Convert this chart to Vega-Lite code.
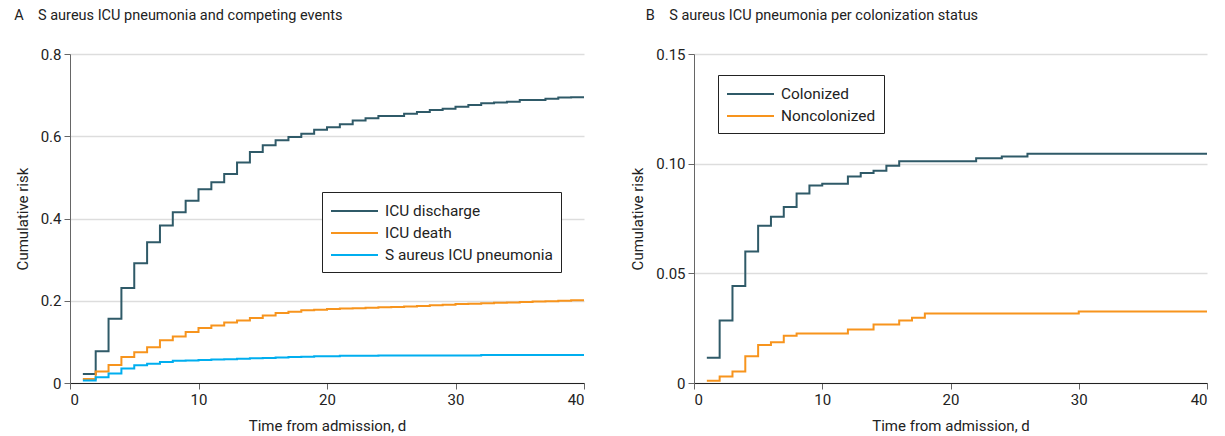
{
  "$schema": "https://vega.github.io/schema/vega-lite/v6.json",
  "background": "white",
  "padding": {"left": 14, "top": 7, "right": 2, "bottom": 3},
  "spacing": 42,
  "config": {
    "font": "Roboto",
    "view": {"stroke": null},
    "axis": {
      "labelFontSize": 15,
      "titleFontSize": 15,
      "titleFontWeight": "normal",
      "labelColor": "#222222",
      "titleColor": "#222222",
      "tickColor": "#666666",
      "domainColor": "#666666",
      "gridColor": "#dddddd",
      "gridWidth": 1.5
    },
    "axisX": {"grid": false, "domainColor": "#222222", "tickColor": "#666666", "tickSize": 6, "labelPadding": 3, "titlePadding": 11},
    "axisY": {"tickSize": 6, "labelPadding": 3, "titlePadding": 10},
    "title": {"fontSize": 14.5, "fontWeight": "normal", "anchor": "start", "color": "#222222"},
    "legend": {"labelFontSize": 15.4, "labelLimit": 400, "labelColor": "#222222", "symbolType": "M-1,0H3.7", "symbolSize": 400, "symbolStrokeWidth": 2, "strokeColor": "#222222", "fillColor": "white", "padding": 8, "rowPadding": 2, "labelOffset": 33}
  },
  "datasets": {
    "a": [
      {"series": "ICU discharge", "day": 1, "risk": 0.022}, {"series": "ICU discharge", "day": 2, "risk": 0.077}, {"series": "ICU discharge", "day": 3, "risk": 0.156}, {"series": "ICU discharge", "day": 4, "risk": 0.231}, {"series": "ICU discharge", "day": 5, "risk": 0.291}, {"series": "ICU discharge", "day": 6, "risk": 0.342}, {"series": "ICU discharge", "day": 7, "risk": 0.383}, {"series": "ICU discharge", "day": 8, "risk": 0.415}, {"series": "ICU discharge", "day": 9, "risk": 0.443}, {"series": "ICU discharge", "day": 10, "risk": 0.471}, {"series": "ICU discharge", "day": 11, "risk": 0.488}, {"series": "ICU discharge", "day": 12, "risk": 0.508}, {"series": "ICU discharge", "day": 13, "risk": 0.536}, {"series": "ICU discharge", "day": 14, "risk": 0.562}, {"series": "ICU discharge", "day": 15, "risk": 0.578}, {"series": "ICU discharge", "day": 16, "risk": 0.59}, {"series": "ICU discharge", "day": 17, "risk": 0.598}, {"series": "ICU discharge", "day": 18, "risk": 0.606}, {"series": "ICU discharge", "day": 19, "risk": 0.616}, {"series": "ICU discharge", "day": 20, "risk": 0.622}, {"series": "ICU discharge", "day": 21, "risk": 0.629}, {"series": "ICU discharge", "day": 22, "risk": 0.638}, {"series": "ICU discharge", "day": 23, "risk": 0.644}, {"series": "ICU discharge", "day": 24, "risk": 0.649}, {"series": "ICU discharge", "day": 26, "risk": 0.655}, {"series": "ICU discharge", "day": 27, "risk": 0.659}, {"series": "ICU discharge", "day": 28, "risk": 0.664}, {"series": "ICU discharge", "day": 29, "risk": 0.667}, {"series": "ICU discharge", "day": 30, "risk": 0.672}, {"series": "ICU discharge", "day": 31, "risk": 0.676}, {"series": "ICU discharge", "day": 32, "risk": 0.68}, {"series": "ICU discharge", "day": 33, "risk": 0.682}, {"series": "ICU discharge", "day": 34, "risk": 0.684}, {"series": "ICU discharge", "day": 35, "risk": 0.688}, {"series": "ICU discharge", "day": 37, "risk": 0.691}, {"series": "ICU discharge", "day": 38, "risk": 0.694}, {"series": "ICU discharge", "day": 39, "risk": 0.695}, {"series": "ICU discharge", "day": 40, "risk": 0.695},
      {"series": "ICU death", "day": 1, "risk": 0.01}, {"series": "ICU death", "day": 2, "risk": 0.028}, {"series": "ICU death", "day": 3, "risk": 0.044}, {"series": "ICU death", "day": 4, "risk": 0.063}, {"series": "ICU death", "day": 5, "risk": 0.075}, {"series": "ICU death", "day": 6, "risk": 0.087}, {"series": "ICU death", "day": 7, "risk": 0.104}, {"series": "ICU death", "day": 8, "risk": 0.113}, {"series": "ICU death", "day": 9, "risk": 0.124}, {"series": "ICU death", "day": 10, "risk": 0.134}, {"series": "ICU death", "day": 11, "risk": 0.14}, {"series": "ICU death", "day": 12, "risk": 0.147}, {"series": "ICU death", "day": 13, "risk": 0.152}, {"series": "ICU death", "day": 14, "risk": 0.158}, {"series": "ICU death", "day": 15, "risk": 0.164}, {"series": "ICU death", "day": 16, "risk": 0.17}, {"series": "ICU death", "day": 17, "risk": 0.173}, {"series": "ICU death", "day": 18, "risk": 0.177}, {"series": "ICU death", "day": 19, "risk": 0.178}, {"series": "ICU death", "day": 20, "risk": 0.18}, {"series": "ICU death", "day": 21, "risk": 0.181}, {"series": "ICU death", "day": 22, "risk": 0.182}, {"series": "ICU death", "day": 23, "risk": 0.183}, {"series": "ICU death", "day": 24, "risk": 0.184}, {"series": "ICU death", "day": 25, "risk": 0.185}, {"series": "ICU death", "day": 26, "risk": 0.186}, {"series": "ICU death", "day": 27, "risk": 0.187}, {"series": "ICU death", "day": 28, "risk": 0.189}, {"series": "ICU death", "day": 29, "risk": 0.19}, {"series": "ICU death", "day": 30, "risk": 0.192}, {"series": "ICU death", "day": 31, "risk": 0.193}, {"series": "ICU death", "day": 32, "risk": 0.194}, {"series": "ICU death", "day": 33, "risk": 0.195}, {"series": "ICU death", "day": 34, "risk": 0.196}, {"series": "ICU death", "day": 35, "risk": 0.197}, {"series": "ICU death", "day": 36, "risk": 0.198}, {"series": "ICU death", "day": 37, "risk": 0.199}, {"series": "ICU death", "day": 38, "risk": 0.2}, {"series": "ICU death", "day": 39, "risk": 0.201}, {"series": "ICU death", "day": 40, "risk": 0.201},
      {"series": "S aureus ICU pneumonia", "day": 1, "risk": 0.006}, {"series": "S aureus ICU pneumonia", "day": 2, "risk": 0.014}, {"series": "S aureus ICU pneumonia", "day": 3, "risk": 0.023}, {"series": "S aureus ICU pneumonia", "day": 4, "risk": 0.035}, {"series": "S aureus ICU pneumonia", "day": 5, "risk": 0.043}, {"series": "S aureus ICU pneumonia", "day": 6, "risk": 0.047}, {"series": "S aureus ICU pneumonia", "day": 7, "risk": 0.051}, {"series": "S aureus ICU pneumonia", "day": 8, "risk": 0.054}, {"series": "S aureus ICU pneumonia", "day": 9, "risk": 0.055}, {"series": "S aureus ICU pneumonia", "day": 10, "risk": 0.056}, {"series": "S aureus ICU pneumonia", "day": 11, "risk": 0.057}, {"series": "S aureus ICU pneumonia", "day": 12, "risk": 0.058}, {"series": "S aureus ICU pneumonia", "day": 13, "risk": 0.059}, {"series": "S aureus ICU pneumonia", "day": 14, "risk": 0.06}, {"series": "S aureus ICU pneumonia", "day": 15, "risk": 0.061}, {"series": "S aureus ICU pneumonia", "day": 16, "risk": 0.062}, {"series": "S aureus ICU pneumonia", "day": 17, "risk": 0.063}, {"series": "S aureus ICU pneumonia", "day": 18, "risk": 0.064}, {"series": "S aureus ICU pneumonia", "day": 19, "risk": 0.065}, {"series": "S aureus ICU pneumonia", "day": 21, "risk": 0.066}, {"series": "S aureus ICU pneumonia", "day": 24, "risk": 0.067}, {"series": "S aureus ICU pneumonia", "day": 32, "risk": 0.068}, {"series": "S aureus ICU pneumonia", "day": 40, "risk": 0.068}
    ],
    "b": [
      {"series": "Colonized", "day": 1, "risk": 0.0115}, {"series": "Colonized", "day": 2, "risk": 0.0285}, {"series": "Colonized", "day": 3, "risk": 0.0442}, {"series": "Colonized", "day": 4, "risk": 0.06}, {"series": "Colonized", "day": 5, "risk": 0.0717}, {"series": "Colonized", "day": 6, "risk": 0.0758}, {"series": "Colonized", "day": 7, "risk": 0.0802}, {"series": "Colonized", "day": 8, "risk": 0.0864}, {"series": "Colonized", "day": 9, "risk": 0.09}, {"series": "Colonized", "day": 10, "risk": 0.0908}, {"series": "Colonized", "day": 12, "risk": 0.0941}, {"series": "Colonized", "day": 13, "risk": 0.0958}, {"series": "Colonized", "day": 14, "risk": 0.0968}, {"series": "Colonized", "day": 15, "risk": 0.099}, {"series": "Colonized", "day": 16, "risk": 0.1011}, {"series": "Colonized", "day": 22, "risk": 0.1025}, {"series": "Colonized", "day": 24, "risk": 0.1033}, {"series": "Colonized", "day": 26, "risk": 0.1045}, {"series": "Colonized", "day": 40, "risk": 0.1045},
      {"series": "Noncolonized", "day": 1, "risk": 0.001}, {"series": "Noncolonized", "day": 2, "risk": 0.003}, {"series": "Noncolonized", "day": 3, "risk": 0.0052}, {"series": "Noncolonized", "day": 4, "risk": 0.0122}, {"series": "Noncolonized", "day": 5, "risk": 0.0173}, {"series": "Noncolonized", "day": 6, "risk": 0.0186}, {"series": "Noncolonized", "day": 7, "risk": 0.0215}, {"series": "Noncolonized", "day": 8, "risk": 0.0226}, {"series": "Noncolonized", "day": 12, "risk": 0.0244}, {"series": "Noncolonized", "day": 14, "risk": 0.0267}, {"series": "Noncolonized", "day": 16, "risk": 0.0285}, {"series": "Noncolonized", "day": 17, "risk": 0.0297}, {"series": "Noncolonized", "day": 18, "risk": 0.0317}, {"series": "Noncolonized", "day": 30, "risk": 0.0326}, {"series": "Noncolonized", "day": 40, "risk": 0.0326}
    ]
  },
  "hconcat": [
    {
      "title": {"text": "A\u00a0\u00a0\u00a0\u00a0S aureus ICU pneumonia and competing events", "offset": 24, "dx": -1},
      "width": 514,
      "height": 329,
      "data": {"name": "a"},
      "mark": {"type": "line", "interpolate": "step-after", "strokeWidth": 2},
      "encoding": {
        "x": {"field": "day", "type": "quantitative", "scale": {"domain": [0, 40], "nice": false}, "axis": {"title": "Time from admission, d", "values": [0, 10, 20, 30, 40]}},
        "y": {"field": "risk", "type": "quantitative", "scale": {"domain": [0, 0.8], "nice": false}, "axis": {"title": "Cumulative risk", "values": [0, 0.2, 0.4, 0.6, 0.8], "labelExpr": "datum.value == 0 ? '0' : format(datum.value, '.1f')"}},
        "color": {"field": "series", "type": "nominal", "scale": {"domain": ["ICU discharge", "ICU death", "S aureus ICU pneumonia"], "range": ["#2f5a68", "#f7941d", "#00aeef"]}, "legend": {"title": null, "orient": "none", "legendX": 252, "legendY": 138}}
      }
    },
    {
      "title": {"text": "B\u00a0\u00a0\u00a0\u00a0S aureus ICU pneumonia per colonization status", "offset": 24, "dx": 15},
      "width": 513,
      "height": 329,
      "data": {"name": "b"},
      "mark": {"type": "line", "interpolate": "step-after", "strokeWidth": 2},
      "encoding": {
        "x": {"field": "day", "type": "quantitative", "scale": {"domain": [0, 40], "nice": false}, "axis": {"title": "Time from admission, d", "values": [0, 10, 20, 30, 40]}},
        "y": {"field": "risk", "type": "quantitative", "scale": {"domain": [0, 0.15], "nice": false}, "axis": {"title": "Cumulative risk", "values": [0, 0.05, 0.1, 0.15], "labelExpr": "datum.value == 0 ? '0' : format(datum.value, '.2f')"}},
        "color": {"field": "series", "type": "nominal", "scale": {"domain": ["Colonized", "Noncolonized"], "range": ["#2f5a68", "#f7941d"]}, "legend": {"title": null, "orient": "none", "legendX": 24, "legendY": 21, "padding": 8, "rowPadding": 2}}
      }
    }
  ],
  "resolve": {"scale": {"color": "independent"}, "legend": {"color": "independent"}}
}
